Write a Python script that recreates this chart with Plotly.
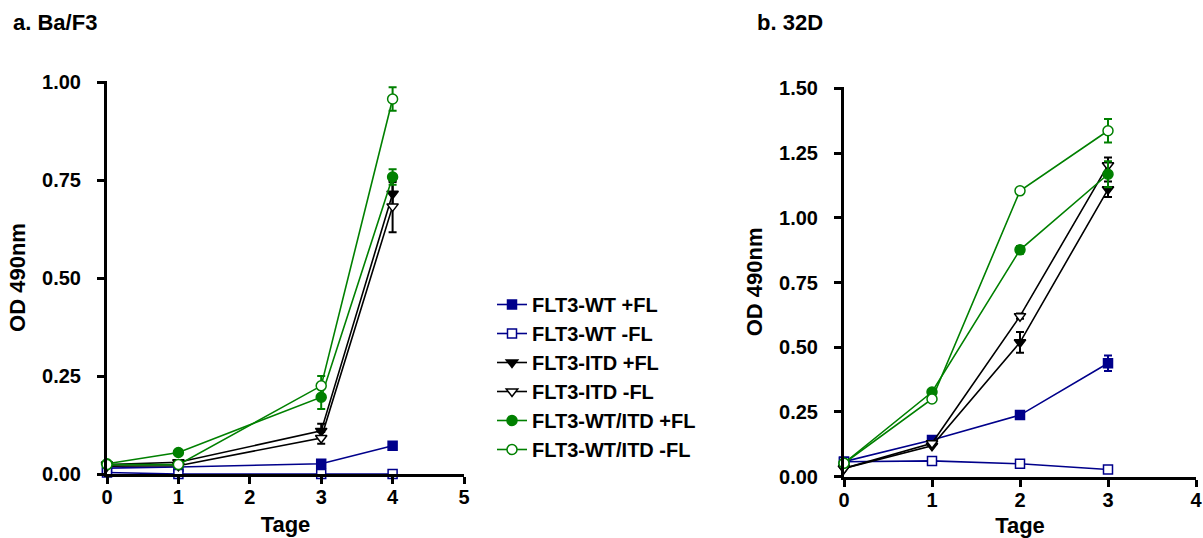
import plotly.graph_objects as go

# ---------------- data ----------------
days_a = [0, 1, 3, 4]
days_b = [0, 1, 2, 3]

names = ["FLT3-WT +FL", "FLT3-WT -FL", "FLT3-ITD +FL", "FLT3-ITD -FL",
         "FLT3-WT/ITD +FL", "FLT3-WT/ITD -FL"]

a_wt_p = [0.015, 0.018, 0.026, 0.072]
a_wt_m = [0.004, 0.000, 0.000, 0.000]
a_itd_p = [0.024, 0.030, 0.110, 0.715]
a_itd_m = [0.020, 0.021, 0.092, 0.683]
a_mix_p = [0.026, 0.055, 0.196, 0.758]
a_mix_m = [0.024, 0.024, 0.225, 0.957]

a_err_wt_p = [0, 0, 0, 0.005]
a_err_wt_m = [0, 0, 0, 0]
a_err_itd_p = [0, 0, 0.018, 0.03]
a_err_itd_m = [0, 0, 0.015, 0.066]
a_err_mix_p = [0, 0, 0.03, 0.02]
a_err_mix_m = [0, 0, 0.025, 0.03]

b_wt_p = [0.058, 0.142, 0.238, 0.438]
b_wt_m = [0.058, 0.061, 0.050, 0.028]
b_itd_p = [0.032, 0.119, 0.519, 1.110]
b_itd_m = [0.032, 0.129, 0.620, 1.203]
b_mix_p = [0.052, 0.327, 0.876, 1.168]
b_mix_m = [0.052, 0.300, 1.104, 1.336]

b_err_wt_p = [0, 0, 0, 0.03]
b_err_wt_m = [0, 0, 0, 0]
b_err_itd_p = [0, 0, 0.04, 0.03]
b_err_itd_m = [0, 0, 0.01, 0.03]
b_err_mix_p = [0, 0, 0.015, 0.05]
b_err_mix_m = [0, 0, 0.01, 0.045]

x_ticks_a = [0, 1, 2, 3, 4, 5]
x_ticks_b = [0, 1, 2, 3, 4]
y_ticks_a = [0, 0.25, 0.5, 0.75, 1.0]
y_ticks_b = [0, 0.25, 0.5, 0.75, 1.0, 1.25, 1.5]

# ---------------- styles ----------------
BLUE = "#00008B"
BLACK = "#000000"
GREEN = "#008000"
styles = [
    dict(color=BLUE, symbol="square", fill=BLUE, size=9),
    dict(color=BLUE, symbol="square", fill="white", size=9),
    dict(color=BLACK, symbol="triangle-down", fill=BLACK, size=10),
    dict(color=BLACK, symbol="triangle-down", fill="white", size=10),
    dict(color=GREEN, symbol="circle", fill=GREEN, size=10),
    dict(color=GREEN, symbol="circle", fill="white", size=10),
]

series_a = [a_wt_p, a_wt_m, a_itd_p, a_itd_m, a_mix_p, a_mix_m]
errs_a = [a_err_wt_p, a_err_wt_m, a_err_itd_p, a_err_itd_m, a_err_mix_p, a_err_mix_m]
series_b = [b_wt_p, b_wt_m, b_itd_p, b_itd_m, b_mix_p, b_mix_m]
errs_b = [b_err_wt_p, b_err_wt_m, b_err_itd_p, b_err_itd_m, b_err_mix_p, b_err_mix_m]

fig = go.Figure()


def add(xs, ys, err, st, name, xa, ya, show):
    fig.add_trace(go.Scatter(
        x=xs, y=ys, name=name, mode="lines+markers",
        xaxis=xa, yaxis=ya, showlegend=show, cliponaxis=False,
        line=dict(color=st["color"], width=1.6),
        marker=dict(symbol=st["symbol"], size=st["size"], color=st["fill"],
                    line=dict(color=st["color"], width=1.5)),
        error_y=dict(type="data", array=err, visible=True, color=st["color"],
                     thickness=2, width=4),
    ))


for ys, err, st, nm in zip(series_a, errs_a, styles, names):
    add(days_a, ys, err, st, nm, "x", "y", True)
for ys, err, st, nm in zip(series_b, errs_b, styles, names):
    add(days_b, ys, err, st, nm, "x2", "y2", False)

W, H = 1203, 538
FONT = "Liberation Sans, Arial, sans-serif"
TICKF = dict(family=FONT, size=20, color="black", weight="bold")
TITLEF = dict(family=FONT, size=22, color="black", weight="bold")

axis_common = dict(showline=True, linecolor="black", linewidth=3, ticks="outside",
                   ticklen=7, tickwidth=3, tickcolor="black", showgrid=False,
                   zeroline=False, tickfont=TICKF, automargin=False)
xcommon = dict(ticklabelstandoff=-4, **axis_common)
ycommon = dict(ticklabelstandoff=12, **axis_common)

fig.update_layout(
    template="none",
    width=W, height=H,
    margin=dict(l=0, r=0, t=0, b=0),
    paper_bgcolor="white", plot_bgcolor="white",
    xaxis=dict(domain=[107 / W, 464 / W], range=[0, 5], tickvals=x_ticks_a,
               anchor="y", title=dict(text="Tage", font=TITLEF, standoff=10),
               **xcommon),
    yaxis=dict(domain=[(H - 474) / H, (H - 81) / H], range=[0, 1.003],
               tickvals=y_ticks_a, tickformat=".2f", anchor="x",
               title=dict(text="OD 490nm", font=TITLEF, standoff=11),
               **ycommon),
    xaxis2=dict(domain=[844 / W, 1196 / W], range=[0, 4], tickvals=x_ticks_b,
                anchor="y2", title=dict(text="Tage", font=TITLEF, standoff=10),
                **xcommon),
    yaxis2=dict(domain=[(H - 476.7) / H, (H - 87) / H], range=[0, 1.505],
                tickvals=y_ticks_b, tickformat=".2f", anchor="x2",
                title=dict(text="OD 490nm", font=TITLEF, standoff=11),
                **ycommon),
    legend=dict(x=492 / W, y=(H - 285) / H, xanchor="left", yanchor="top",
                font=dict(family=FONT, size=20, color="black", weight="bold"),
                bgcolor="rgba(0,0,0,0)", borderwidth=0, tracegroupgap=0, itemwidth=30),
    annotations=[
        dict(text="a. Ba/F3", x=11 / W, y=(H - 22) / H, xref="paper", yref="paper",
             xanchor="left", yanchor="middle", showarrow=False,
             font=dict(family=FONT, size=22, color="black", weight="bold")),
        dict(text="b. 32D", x=755 / W, y=(H - 22) / H, xref="paper", yref="paper",
             xanchor="left", yanchor="middle", showarrow=False,
             font=dict(family=FONT, size=22, color="black", weight="bold")),
    ],
)

fig.write_html("out.html", config={"displayModeBar": False},
               post_script="document.body.style.margin='0px';")
